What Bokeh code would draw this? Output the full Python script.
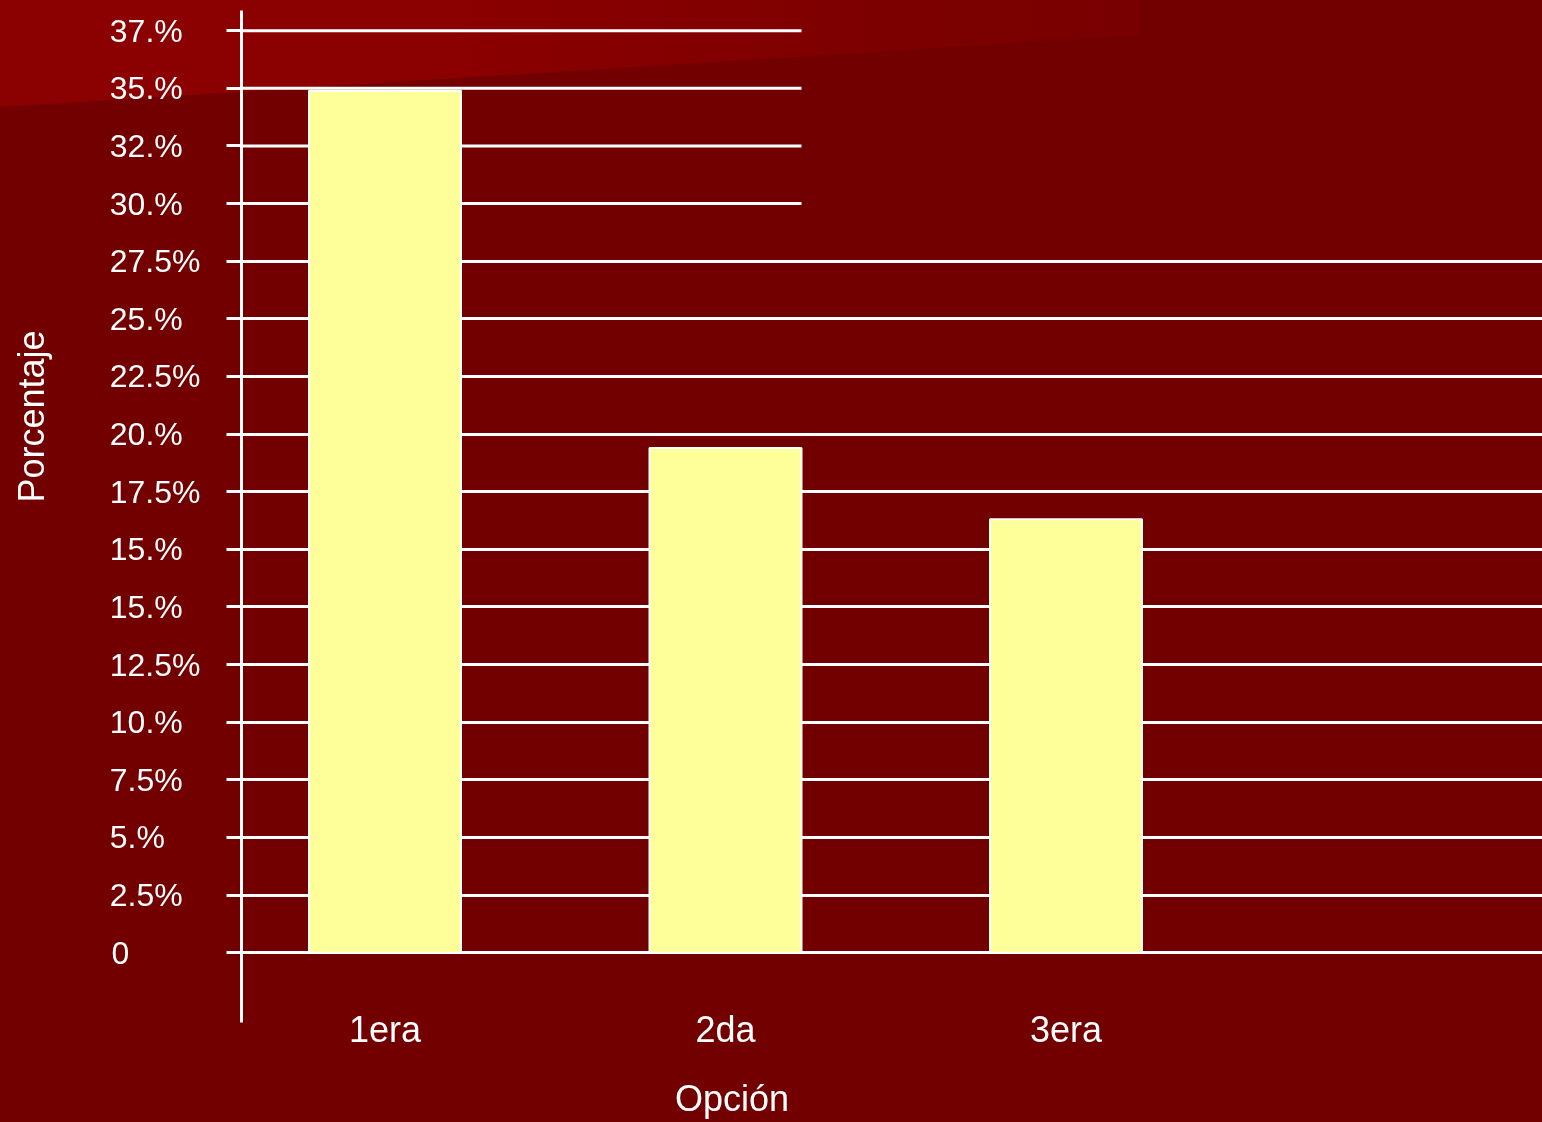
from bokeh.plotting import figure
from bokeh.models import FixedTicker, ColumnDataSource, Range1d
from bokeh.embed import file_html
from bokeh.resources import INLINE

# ---------------- data ----------------
CATEGORIES = ["1era", "2da", "3era"]
PERCENT = [37.4, 21.9, 18.8]
TICK_LABELS = ["0", "2.5%", "5.%", "7.5%", "10.%", "12.5%", "15.%", "15.%", "17.5%",
               "20.%", "22.5%", "25.%", "27.5%", "30.%", "32.%", "35.%", "37.%"]
TICK_STEP = 2.5
N_FULL_GRID = 13          # lower grid lines span the whole width
X_TITLE = "Opción"
Y_TITLE = "Porcentaje"

# ---------------- layout ----------------
W, H = 1542, 1122
FRAME_L, FRAME_T, FRAME_B = 241, 10, 1022
CAT_PX, CAT0_PX = 340.5, 384.5       # px per category, px of first category
UNIT_PX, ZERO_PX = 23.05, 952.2      # px per percent unit, px of zero
BAR_W = 152 / CAT_PX
X_TITLE_CX, Y_TITLE_CY = 731.5, 414  # wanted centres of the axis titles (px)

x_start = (FRAME_L - CAT0_PX) / CAT_PX
x_end = (W - CAT0_PX) / CAT_PX
y_start = (ZERO_PX - FRAME_B) / UNIT_PX
y_end = (ZERO_PX - FRAME_T) / UNIT_PX

FONT = "Liberation Sans"
WHITE = "white"
NBSP_EM = 0.278

p = figure(width=W, height=H, x_range=Range1d(x_start, x_end), y_range=Range1d(y_start, y_end),
           output_backend="svg", toolbar_location=None,
           min_border_left=FRAME_L, min_border_right=0, min_border_top=FRAME_T,
           min_border_bottom=H - FRAME_B)
p.background_fill_alpha = 0
p.border_fill_alpha = 0
p.outline_line_color = None

ticks = [i * TICK_STEP for i in range(len(TICK_LABELS))]

# left-align tick labels by padding them to a common width with no-break spaces
ADV = {**{d: 0.556 for d in "0123456789"}, ".": 0.278, "%": 0.889}
widest = max(sum(ADV[c] for c in s) for s in TICK_LABELS)
def pad(s):
    n = round((widest - sum(ADV[c] for c in s)) / NBSP_EM)
    return s + "\u00a0" * n

def key(t):
    return t if t % 1 else int(t)

def shift_pad(shift_px, size_px):
    return "\u00a0" * round(2 * shift_px / (NBSP_EM * size_px))

yaxis = p.yaxis[0]
yaxis.ticker = FixedTicker(ticks=ticks, minor_ticks=[])
yaxis.major_label_overrides = {key(t): pad(l) for t, l in zip(ticks, TICK_LABELS)}
yaxis.axis_line_color = WHITE
yaxis.axis_line_width = 3
yaxis.major_tick_line_color = WHITE
yaxis.major_tick_line_width = 3
yaxis.major_tick_out = 15
yaxis.major_tick_in = 0
yaxis.minor_tick_line_color = None
yaxis.major_label_text_color = WHITE
yaxis.major_label_text_font = FONT
yaxis.major_label_text_font_size = "32px"
yaxis.major_label_standoff = 26
# axis title, moved up from the frame centre with leading no-break spaces
yaxis.axis_label = shift_pad((FRAME_T + FRAME_B) / 2 - Y_TITLE_CY, 36) + Y_TITLE
yaxis.axis_label_text_color = WHITE
yaxis.axis_label_text_font = FONT
yaxis.axis_label_text_font_size = "36px"
yaxis.axis_label_text_font_style = "normal"
yaxis.axis_label_standoff = 55

xaxis = p.xaxis[0]
xaxis.ticker = FixedTicker(ticks=list(range(len(CATEGORIES))), minor_ticks=[])
xaxis.major_label_overrides = {i: c for i, c in enumerate(CATEGORIES)}
xaxis.axis_line_color = None
xaxis.major_tick_line_color = None
xaxis.minor_tick_line_color = None
xaxis.major_tick_out = 0
xaxis.major_tick_in = 0
xaxis.major_label_text_color = WHITE
xaxis.major_label_text_font = FONT
xaxis.major_label_text_font_size = "36px"
xaxis.major_label_standoff = -14
# axis title, moved left from the frame centre with trailing no-break spaces
xaxis.axis_label = X_TITLE + shift_pad((FRAME_L + W) / 2 - X_TITLE_CX, 36)
xaxis.axis_label_text_color = WHITE
xaxis.axis_label_text_font = FONT
xaxis.axis_label_text_font_size = "36px"
xaxis.axis_label_text_font_style = "normal"
xaxis.axis_label_standoff = 25

p.xgrid.visible = False
p.ygrid.ticker = FixedTicker(ticks=ticks[:N_FULL_GRID], minor_ticks=[])
p.ygrid.grid_line_color = WHITE
p.ygrid.grid_line_width = 3

# upper grid lines stop at the second bar
top_ticks = ticks[N_FULL_GRID:]
p.segment(x0=[x_start] * len(top_ticks), y0=top_ticks,
          x1=[1 + BAR_W / 2] * len(top_ticks), y1=top_ticks,
          line_color=WHITE, line_width=3)

src = ColumnDataSource(dict(x=list(range(len(CATEGORIES))), top=PERCENT, cat=CATEGORIES))
p.vbar(x="x", top="top", bottom=0, width=BAR_W, source=src,
       fill_color="#FFFF99", line_color=WHITE, line_width=2)

PAGE = """{% block preamble %}<style>
html { background: #720000; }
body { margin: 0; padding: 0; overflow: hidden; background: transparent; }
body::before { content: ""; position: fixed; left: 0; top: 0; width: 1141px; height: 110px; z-index: -1;
  background: linear-gradient(90deg, #8b0000 0px, #8b0000 450px, #7b0000 950px, #790000 1141px);
  clip-path: polygon(0 0, 1141px 0, 1141px 35px, 0 107px); }
</style>{% endblock %}"""

open("out.html", "w").write(file_html(p, INLINE, template=PAGE))
